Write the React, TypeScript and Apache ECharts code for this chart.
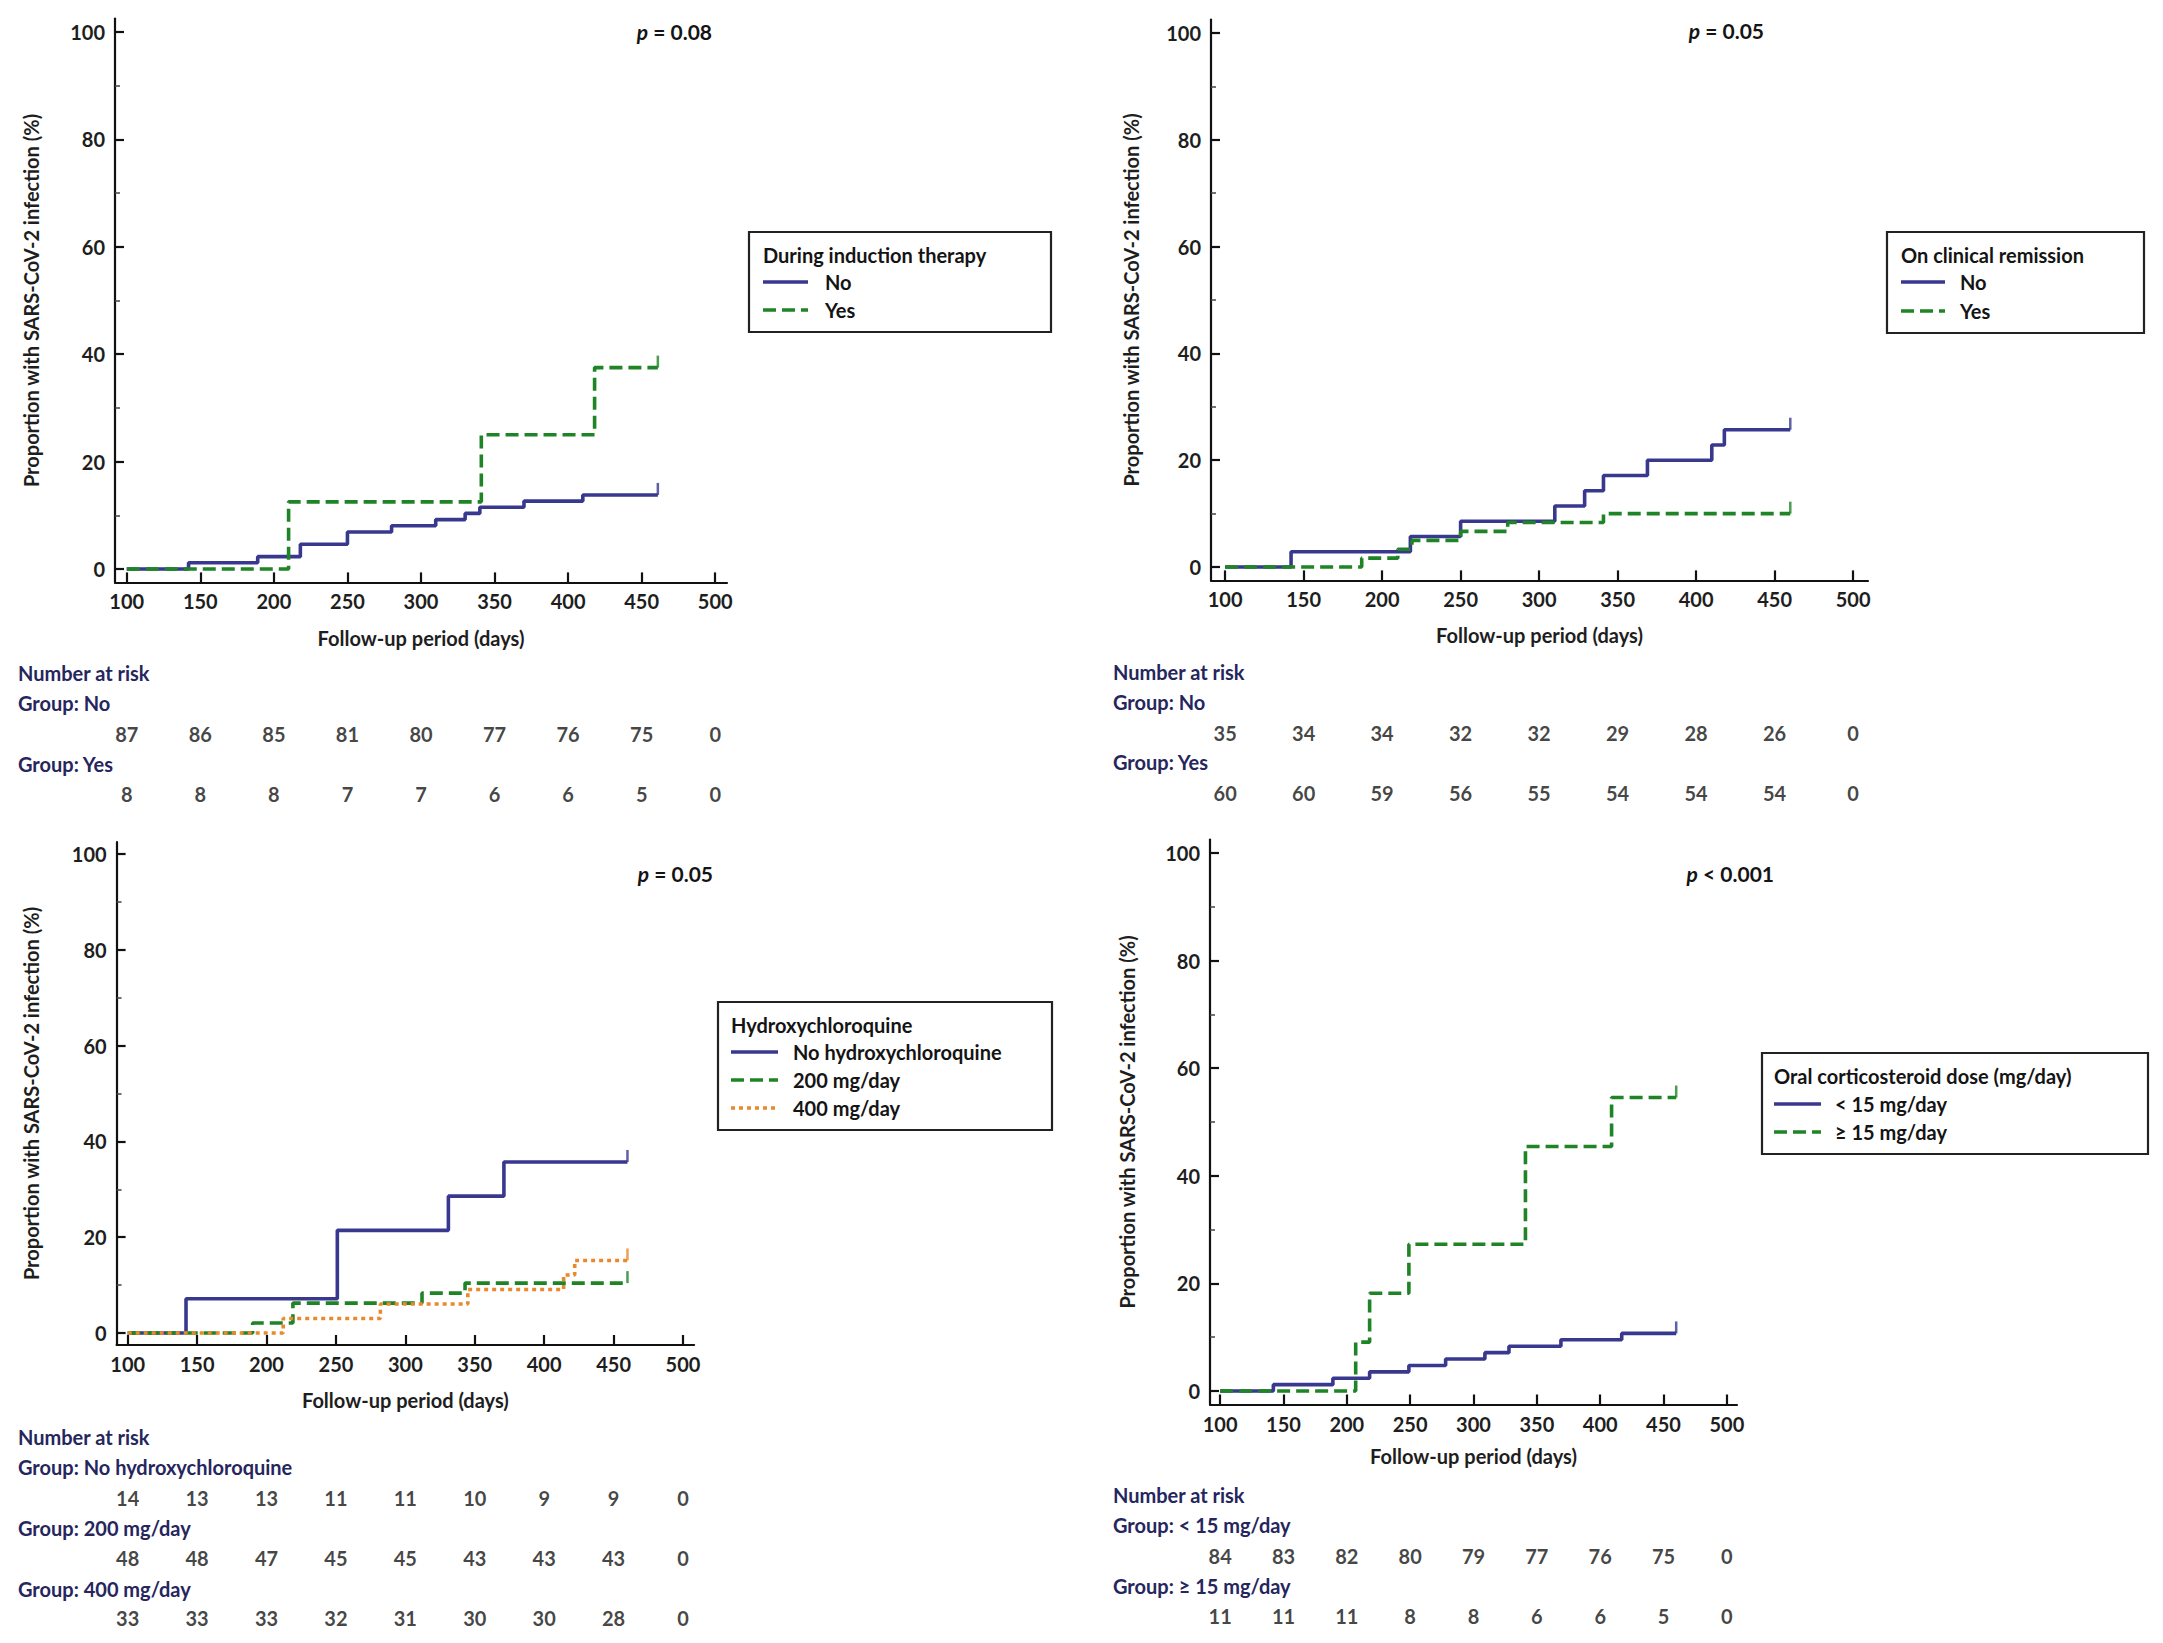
import React, { useEffect, useRef } from "react";
import * as echarts from "echarts";

// ---------- shared ticks ----------
const X_TICKS = [100, 150, 200, 250, 300, 350, 400, 450, 500];
const Y_TICKS = [0, 20, 40, 60, 80, 100];
const Y_MINOR = [10, 30, 50, 70, 90];

// ---------- Panel 1: induction therapy ----------
const P1_LEGEND_TITLE = "During induction therapy";
const P1_GROUPS = ["No", "Yes"];
const P1_NO = [[100, 0], [142, 1.15], [189, 2.3], [218, 4.6], [250, 6.9], [280, 8.05], [310, 9.2], [330, 10.35], [340, 11.5], [370, 12.64], [410, 13.79], [461, 13.79]];
const P1_YES = [[100, 0], [210, 12.5], [341, 25], [418, 37.5], [461, 37.5]];
const P1_RISK_NO = [87, 86, 85, 81, 80, 77, 76, 75, 0];
const P1_RISK_YES = [8, 8, 8, 7, 7, 6, 6, 5, 0];
const P1_P = " = 0.08";

// ---------- Panel 2: clinical remission ----------
const P2_LEGEND_TITLE = "On clinical remission";
const P2_GROUPS = ["No", "Yes"];
const P2_NO = [[100, 0], [142, 2.86], [218, 5.71], [250, 8.57], [310, 11.43], [329, 14.29], [341, 17.14], [369, 20], [410, 22.86], [418, 25.71], [460, 25.71]];
const P2_YES = [[100, 0], [187, 1.67], [210, 3.33], [219, 5], [250, 6.67], [280, 8.33], [341, 10], [460, 10]];
const P2_RISK_NO = [35, 34, 34, 32, 32, 29, 28, 26, 0];
const P2_RISK_YES = [60, 60, 59, 56, 55, 54, 54, 54, 0];
const P2_P = " = 0.05";

// ---------- Panel 3: hydroxychloroquine ----------
const P3_LEGEND_TITLE = "Hydroxychloroquine";
const P3_GROUPS = ["No hydroxychloroquine", "200 mg/day", "400 mg/day"];
const P3_NONE = [[100, 0], [142, 7.14], [251, 21.43], [331, 28.57], [371, 35.71], [460, 35.71]];
const P3_200 = [[100, 0], [190, 2.08], [219, 6.25], [312, 8.33], [343, 10.42], [460, 10.42]];
const P3_400 = [[100, 0], [212, 3.03], [282, 6.06], [345, 9.09], [414, 12.12], [422, 15.15], [460, 15.15]];
const P3_RISK_NONE = [14, 13, 13, 11, 11, 10, 9, 9, 0];
const P3_RISK_200 = [48, 48, 47, 45, 45, 43, 43, 43, 0];
const P3_RISK_400 = [33, 33, 33, 32, 31, 30, 30, 28, 0];
const P3_P = " = 0.05";

// ---------- Panel 4: corticosteroid dose ----------
const P4_LEGEND_TITLE = "Oral corticosteroid dose (mg/day)";
const P4_GROUPS = ["< 15 mg/day", "\u2265 15 mg/day"];
const P4_LOW = [[100, 0], [142, 1.19], [189, 2.38], [218, 3.57], [249, 4.76], [278, 5.95], [309, 7.14], [328, 8.33], [369, 9.52], [417, 10.71], [460, 10.71]];
const P4_HIGH = [[100, 0], [207, 9.09], [218, 18.18], [249, 27.27], [341, 45.45], [409, 54.55], [460, 54.55]];
const P4_RISK_LOW = [84, 83, 82, 80, 79, 77, 76, 75, 0];
const P4_RISK_HIGH = [11, 11, 11, 8, 8, 6, 6, 5, 0];
const P4_P = " < 0.001";

// ---------- texts ----------
const Y_NAME = "Proportion with SARS-CoV-2 infection (%)";
const X_NAME = "Follow-up period (days)";
const RISK_HEADER = "Number at risk";

// ---------- styles ----------
const FONT = "Lato, 'Noto Sans', sans-serif";
const NAVY = "#26265e";
const INK = "#141414";
const BLUE = "#38388f";
const GREEN = "#1f8426";
const ORANGE = "#e8892c";
const DASH = [13, 6];
const DOT = [4, 4];
const LW = 3.6;

type Curve = { name: string; data: number[][]; color: string; dash: any };
type Panel = {
  grid: number[]; xMin: number; xMax: number; yNameGap: number; xNameGap: number;
  curves: Curve[];
  legend: { title: string; box: number[]; titleY: number; itemY: number[]; sampleX: number[]; textX: number };
  p: { text: string; x: number; y: number };
  risk: { x: number; headerY: number; rows: { label: string; labelY: number; numY: number; values: number[] }[] };
};

const PANELS: Panel[] = [
  {
    grid: [115, 18.6, 612, 563.8], xMin: 92, xMax: 508, yNameGap: 74, xNameGap: 46,
    curves: [
      { name: P1_GROUPS[0], data: P1_NO, color: BLUE, dash: "solid" },
      { name: P1_GROUPS[1], data: P1_YES, color: GREEN, dash: DASH },
    ],
    legend: { title: P1_LEGEND_TITLE, box: [749, 232, 302, 100], titleY: 255, itemY: [282, 310], sampleX: [763, 808], textX: 825 },
    p: { text: P1_P, x: 712, y: 31 },
    risk: { x: 18, headerY: 673, rows: [
      { label: "Group: " + P1_GROUPS[0], labelY: 703, numY: 734, values: P1_RISK_NO },
      { label: "Group: " + P1_GROUPS[1], labelY: 764, numY: 794, values: P1_RISK_YES },
    ] },
  },
  {
    grid: [1211, 19.6, 657, 560.8], xMin: 91, xMax: 509.5, yNameGap: 70, xNameGap: 45,
    curves: [
      { name: P2_GROUPS[0], data: P2_NO, color: BLUE, dash: "solid" },
      { name: P2_GROUPS[1], data: P2_YES, color: GREEN, dash: DASH },
    ],
    legend: { title: P2_LEGEND_TITLE, box: [1887, 232, 257, 101], titleY: 255, itemY: [282, 311], sampleX: [1901, 1945], textX: 1960 },
    p: { text: P2_P, x: 1764, y: 30 },
    risk: { x: 1113, headerY: 672, rows: [
      { label: "Group: " + P2_GROUPS[0], labelY: 702, numY: 733, values: P2_RISK_NO },
      { label: "Group: " + P2_GROUPS[1], labelY: 762, numY: 793, values: P2_RISK_YES },
    ] },
  },
  {
    grid: [116.6, 842, 577.5, 503], xMin: 92, xMax: 508, yNameGap: 76, xNameGap: 45,
    curves: [
      { name: P3_GROUPS[0], data: P3_NONE, color: BLUE, dash: "solid" },
      { name: P3_GROUPS[1], data: P3_200, color: GREEN, dash: DASH },
      { name: P3_GROUPS[2], data: P3_400, color: ORANGE, dash: DOT },
    ],
    legend: { title: P3_LEGEND_TITLE, box: [718, 1002, 334, 128], titleY: 1025, itemY: [1052, 1080, 1108], sampleX: [731, 778], textX: 793 },
    p: { text: P3_P, x: 713, y: 873 },
    risk: { x: 18, headerY: 1437, rows: [
      { label: "Group: " + P3_GROUPS[0], labelY: 1467, numY: 1498, values: P3_RISK_NONE },
      { label: "Group: " + P3_GROUPS[1], labelY: 1528, numY: 1558, values: P3_RISK_200 },
      { label: "Group: " + P3_GROUPS[2], labelY: 1589, numY: 1618, values: P3_RISK_400 },
    ] },
  },
  {
    grid: [1210, 839.5, 527, 565], xMin: 92, xMax: 508, yNameGap: 73, xNameGap: 41,
    curves: [
      { name: P4_GROUPS[0], data: P4_LOW, color: BLUE, dash: "solid" },
      { name: P4_GROUPS[1], data: P4_HIGH, color: GREEN, dash: DASH },
    ],
    legend: { title: P4_LEGEND_TITLE, box: [1762, 1053, 386, 101], titleY: 1076, itemY: [1104, 1132], sampleX: [1774, 1821], textX: 1835 },
    p: { text: P4_P, x: 1774, y: 873 },
    risk: { x: 1113, headerY: 1495, rows: [
      { label: "Group: " + P4_GROUPS[0], labelY: 1525, numY: 1556, values: P4_RISK_LOW },
      { label: "Group: " + P4_GROUPS[1], labelY: 1586, numY: 1616, values: P4_RISK_HIGH },
    ] },
  },
];

function text(x: number, y: number, str: string, opts: any = {}) {
  return {
    type: "text", x, y, z: 100, silent: true,
    style: {
      text: str, fill: opts.fill || INK, fontSize: opts.fontSize || 20, fontFamily: FONT,
      fontWeight: opts.fontWeight || "bold", align: opts.align || "left", verticalAlign: "middle",
      rich: opts.rich,
    },
  };
}

function buildOption() {
  const grid: any[] = [];
  const xAxis: any[] = [];
  const yAxis: any[] = [];
  const series: any[] = [];
  const graphic: any[] = [];

  const axisText = { fontSize: 20, color: "#1e1e1e", fontFamily: FONT, fontWeight: "bold" };

  PANELS.forEach((p) => {
    const gi = grid.length;
    grid.push({ left: p.grid[0], top: p.grid[1], width: p.grid[2], height: p.grid[3], containLabel: false });
    const xi = xAxis.length;
    xAxis.push({
      gridIndex: gi, type: "value", min: p.xMin, max: p.xMax, position: "bottom",
      axisLine: { show: true, onZero: false, lineStyle: { color: "#111", width: 2.2 } },
      axisTick: { show: true, inside: true, length: 10, customValues: X_TICKS, lineStyle: { color: "#111", width: 2.2 } },
      axisLabel: { show: true, customValues: X_TICKS, margin: 9, ...axisText },
      splitLine: { show: false },
      name: X_NAME, nameLocation: "middle", nameGap: p.xNameGap,
      nameTextStyle: { ...axisText },
    });
    const yi = yAxis.length;
    yAxis.push({
      gridIndex: gi, type: "value", min: -2.5, max: 102.5, position: "left",
      axisLine: { show: true, onZero: false, lineStyle: { color: "#111", width: 2.2 } },
      axisTick: { show: true, inside: true, length: 9, customValues: Y_TICKS, lineStyle: { color: "#111", width: 2.2 } },
      axisLabel: { show: true, customValues: Y_TICKS, margin: 10, ...axisText },
      splitLine: { show: false },
      name: Y_NAME, nameLocation: "middle", nameGap: p.yNameGap,
      nameTextStyle: { ...axisText },
    });
    yAxis.push({
      gridIndex: gi, type: "value", min: -2.5, max: 102.5, position: "left", offset: 0,
      axisLine: { show: false, onZero: false },
      axisTick: { show: true, inside: true, length: 5, customValues: Y_MINOR, lineStyle: { color: "#444", width: 1.5 } },
      axisLabel: { show: false },
      splitLine: { show: false },
    });

    p.curves.forEach((c) => {
      series.push({
        type: "line", name: c.name, xAxisIndex: xi, yAxisIndex: yi, data: c.data,
        step: "end", symbol: "none", silent: true,
        lineStyle: { color: c.color, width: LW, type: c.dash, cap: "butt" },
        z: 3,
      });
      const last = c.data[c.data.length - 1];
      series.push({
        type: "scatter", xAxisIndex: xi, yAxisIndex: yi, data: [last], silent: true,
        symbol: "rect", symbolSize: [2.5, 12], symbolOffset: [0, -6],
        itemStyle: { color: c.color }, z: 3,
      });
    });

    // legend box
    const L = p.legend;
    graphic.push({
      type: "rect", z: 90, silent: true,
      shape: { x: L.box[0], y: L.box[1], width: L.box[2], height: L.box[3] },
      style: { fill: "#fff", stroke: "#222", lineWidth: 2.2 },
    });
    graphic.push(text(L.sampleX[0], L.titleY, L.title));
    p.curves.forEach((c, i) => {
      graphic.push({
        type: "line", z: 100, silent: true,
        shape: { x1: L.sampleX[0], y1: L.itemY[i], x2: L.sampleX[1], y2: L.itemY[i] },
        style: { stroke: c.color, lineWidth: LW, lineDash: c.dash === "solid" ? null : c.dash },
      });
      graphic.push(text(L.textX, L.itemY[i], c.name));
    });

    // p value
    graphic.push(text(p.p.x, p.p.y, "{i|p}" + p.p.text, {
      fontSize: 21, align: "right",
      rich: { i: { fontStyle: "italic", fontWeight: "bold", fontSize: 21, fontFamily: FONT, fill: INK } },
    }));

    // number at risk
    graphic.push(text(p.risk.x, p.risk.headerY, RISK_HEADER, { fill: NAVY }));
    p.risk.rows.forEach((r) => {
      graphic.push(text(p.risk.x, r.labelY, r.label, { fill: NAVY }));
      const rg = grid.length;
      grid.push({ left: p.grid[0], width: p.grid[2], top: r.numY - 12, height: 24, containLabel: false });
      const rx = xAxis.length;
      xAxis.push({ gridIndex: rg, type: "value", min: p.xMin, max: p.xMax, show: false });
      const ry = yAxis.length;
      yAxis.push({ gridIndex: rg, type: "value", min: 0, max: 1, show: false });
      series.push({
        type: "scatter", xAxisIndex: rx, yAxisIndex: ry, silent: true,
        data: X_TICKS.map((x, i) => [x, 0.5, r.values[i]]),
        symbolSize: 1, itemStyle: { color: "rgba(0,0,0,0)" },
        label: {
          show: true, position: "inside", formatter: (d: any) => String(d.value[2]),
          fontSize: 20, color: INK, fontFamily: FONT, fontWeight: "bold",
        },
      });
    });
  });

  return {
    animation: false,
    backgroundColor: "#ffffff",
    grid, xAxis, yAxis, series, graphic,
  };
}

export default function App() {
  const ref = useRef<HTMLDivElement>(null);
  useEffect(() => {
    document.body.style.margin = "0";
    const chart = echarts.init(ref.current!, undefined, { renderer: "svg" });
    chart.setOption(buildOption() as any);
    return () => chart.dispose();
  }, []);
  return <div ref={ref} style={{ position: "absolute", left: 0, top: 0, width: 2163, height: 1643, background: "#fff" }} />;
}
